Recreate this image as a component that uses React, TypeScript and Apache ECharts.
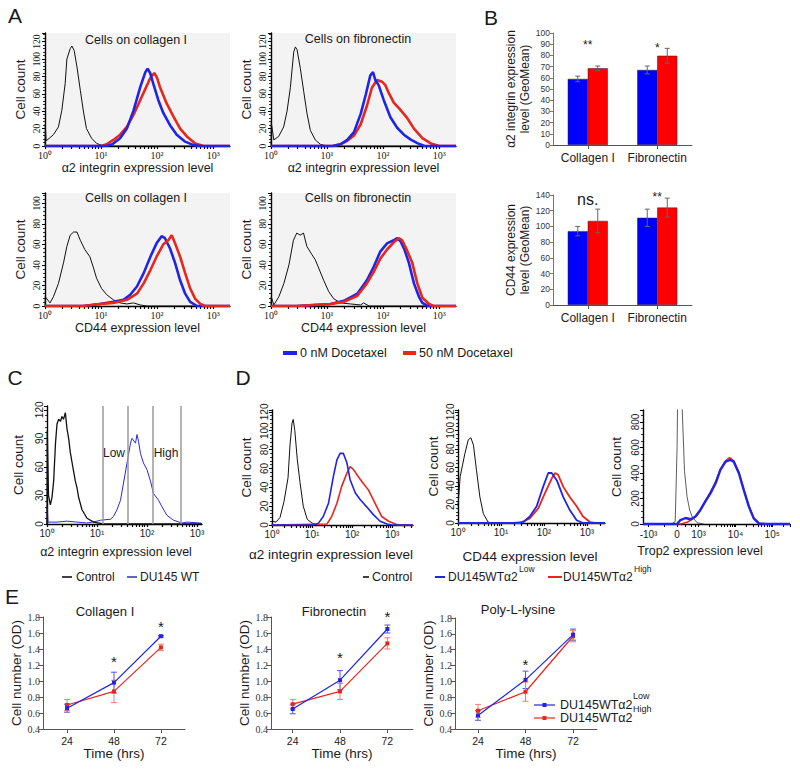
import React, { useEffect, useRef } from 'react';
import * as echarts from 'echarts';

type Pt = [number, number];

const SANS = '"Liberation Sans", Arial, Helvetica, sans-serif';
const SERIF = '"Liberation Serif", "Times New Roman", serif';
const INK = '#1a1a1a';
const BLUE = '#1f24e8';
const RED = '#e8261c';
const BAR_BLUE = '#0000ff';
const BAR_RED = '#ff0000';

// ---------- Panel A: flow histograms, x = log10(expression level), y = cell count ----------
const aColA2Control: Pt[] = [[0,0],[0.005,25],[0.02,6],[0.08,9],[0.15,13],[0.24,22],[0.3,41],[0.36,72],[0.39,100],[0.45,112],[0.48,115],[0.52,110],[0.57,91],[0.63,64],[0.69,38],[0.74,20],[0.83,9],[0.92,3],[1.04,0],[3.3,0]];
const aColA2Low: Pt[] = [[0,0],[1.1,0],[1.2,2],[1.34,9],[1.46,20],[1.58,41],[1.7,68],[1.79,85],[1.83,89],[1.875,84],[1.93,72],[2.02,53],[2.11,38],[2.23,24],[2.35,13],[2.5,5],[2.65,1],[2.77,0],[3.3,0]];
const aColA2High: Pt[] = [[0,0],[1.0,0],[1.1,2],[1.22,7],[1.34,13],[1.46,22],[1.58,36],[1.7,53],[1.82,70],[1.875,78],[1.95,84],[2.0,78],[2.05,68],[2.17,49],[2.29,34],[2.41,20],[2.53,11],[2.68,3],[2.83,0],[3.3,0]];

const aFibA2Control: Pt[] = [[0,0],[0.005,27],[0.05,7],[0.137,11],[0.226,22],[0.286,40],[0.345,67],[0.405,108],[0.435,114],[0.464,111],[0.524,89],[0.583,63],[0.643,37],[0.702,18],[0.79,7],[0.88,2],[1.0,0],[3.3,0]];
const aFibA2Low: Pt[] = [[0,0],[1.1,0],[1.24,2],[1.36,7],[1.48,16],[1.6,37],[1.69,59],[1.77,81],[1.82,85],[1.86,76],[1.92,70],[2.01,53],[2.13,33],[2.25,21],[2.37,13],[2.5,7],[2.62,3],[2.74,0],[3.3,0]];
const aFibA2High: Pt[] = [[0,0],[1.1,0],[1.24,2],[1.36,6],[1.48,12],[1.6,25],[1.71,46],[1.8,67],[1.89,76],[1.98,74],[2.04,70],[2.1,61],[2.19,50],[2.29,43],[2.42,33],[2.55,20],[2.7,9],[2.85,3],[3.0,0],[3.3,0]];

const aColCD44Control: Pt[] = [[0,0],[0.005,9],[0.09,3],[0.15,9],[0.24,22],[0.33,42],[0.39,58],[0.45,69],[0.51,72],[0.57,72],[0.63,64],[0.71,55],[0.8,48],[0.86,38],[0.92,27],[1.01,17],[1.1,11],[1.22,6],[1.34,3],[1.46,2],[1.58,3],[1.7,1],[1.82,0],[3.3,0]];
const aColCD44Low: Pt[] = [[0,0],[0.68,0],[0.98,2],[1.22,4],[1.4,6],[1.52,11],[1.64,19],[1.76,32],[1.88,48],[1.99,61],[2.08,68],[2.14,66],[2.23,56],[2.32,42],[2.41,25],[2.5,12],[2.59,4],[2.71,0],[3.3,0]];
const aColCD44High: Pt[] = [[0,0],[0.68,0],[0.98,2],[1.22,3],[1.46,6],[1.64,12],[1.76,22],[1.88,35],[1.99,48],[2.11,60],[2.2,64],[2.26,69],[2.32,61],[2.41,48],[2.5,32],[2.59,17],[2.68,7],[2.77,2],[2.86,0],[3.3,0]];

const aFibCD44Control: Pt[] = [[0,0],[0.005,9],[0.05,1],[0.14,9],[0.23,22],[0.32,40],[0.4,64],[0.46,71],[0.52,69],[0.58,71],[0.64,58],[0.73,50],[0.79,45],[0.85,37],[0.94,25],[1.03,14],[1.12,7],[1.24,3],[1.42,2],[1.6,1],[1.65,3],[1.75,0],[3.3,0]];
const aFibCD44Low: Pt[] = [[0,0],[0.46,0],[0.76,1],[1.06,2],[1.3,5],[1.54,12],[1.71,25],[1.83,38],[1.95,53],[2.07,61],[2.19,64],[2.25,66],[2.31,63],[2.38,55],[2.46,42],[2.55,22],[2.64,9],[2.7,3],[2.8,0],[3.3,0]];
const aFibCD44High: Pt[] = [[0,0],[0.46,0],[0.76,1],[1.06,2],[1.3,4],[1.54,10],[1.71,22],[1.83,33],[1.95,46],[2.07,55],[2.19,62],[2.28,66],[2.34,64],[2.42,55],[2.52,42],[2.61,22],[2.7,8],[2.82,2],[2.9,0],[3.3,0]];

// ---------- Panel B: GeoMean bars ----------
const bCategories = ['Collagen I', 'Fibronectin'];
const bA2Blue = [59, 67];
const bA2BlueErr = [2.5, 3.5];
const bA2Red = [68.5, 79.7];
const bA2RedErr = [2, 6.6];
const bA2Sig = ['**', '*'];
const bA2SigY = [89, 87];
const bCD44Blue = [94, 111];
const bCD44BlueErr = [6, 11];
const bCD44Red = [107, 124];
const bCD44RedErr = [15, 12];
const bCD44Sig = ['ns.', '**'];
const bCD44SigY = [134, 137];

// ---------- Panel C ----------
const cControl: Pt[] = [[0,0],[0.005,98],[0.03,30],[0.067,20],[0.1,28],[0.133,45],[0.17,85],[0.2,105],[0.233,110],[0.27,108],[0.3,113],[0.33,110],[0.367,117],[0.4,100],[0.433,90],[0.467,75],[0.5,65],[0.533,55],[0.567,45],[0.6,38],[0.633,28],[0.7,15],[0.8,6],[0.933,2],[1.13,0],[3.1,0]];
const cWT: Pt[] = [[0,0],[0.005,18],[0.02,2],[0.2,2],[0.4,3],[0.6,2],[0.8,1],[1.0,3],[1.07,4],[1.27,5],[1.33,8],[1.4,15],[1.47,25],[1.53,43],[1.6,64],[1.67,85],[1.7,90],[1.77,85],[1.8,94],[1.83,87],[1.87,74],[1.93,64],[2.0,57],[2.07,45],[2.13,32],[2.23,25],[2.3,18],[2.4,9],[2.53,4],[2.7,1],[2.8,2],[3.07,1],[3.1,0]];
const cGates = [1.12, 1.62, 2.12, 2.68];

// ---------- Panel D ----------
const dA2Control: Pt[] = [[0,0],[0.02,4],[0.1,3],[0.2,8],[0.3,25],[0.4,50],[0.45,85],[0.5,108],[0.53,112],[0.57,100],[0.63,70],[0.7,45],[0.78,20],[0.88,6],[1.0,2],[1.15,0]];
const dA2Low: Pt[] = [[0,0],[1.05,0],[1.16,2],[1.28,9],[1.41,23],[1.53,51],[1.62,69],[1.7,76],[1.78,76],[1.87,66],[1.95,48],[2.08,34],[2.2,27],[2.37,19],[2.53,11],[2.7,4],[2.87,1],[3.0,0],[3.52,0]];
const dA2High: Pt[] = [[0,0],[1.37,1],[1.49,9],[1.62,23],[1.74,41],[1.87,55],[1.95,62],[2.03,59],[2.16,51],[2.28,44],[2.41,37],[2.49,30],[2.62,19],[2.74,9],[2.91,4],[3.08,1],[3.15,0],[3.52,0]];

const dCD44Control: Pt[] = [[0,18],[0.05,50],[0.16,75],[0.24,90],[0.3,92],[0.36,84],[0.43,57],[0.51,28],[0.59,10],[0.7,1],[0.78,0]];
const dCD44Low: Pt[] = [[0,0],[1.29,0],[1.52,1],[1.67,7],[1.83,18],[1.98,39],[2.1,54],[2.18,54],[2.3,46],[2.45,28],[2.6,14],[2.76,3],[2.91,0],[3.42,0]];
const dCD44High: Pt[] = [[0,0],[1.44,0],[1.67,5],[1.87,16],[2.02,32],[2.18,48],[2.26,54],[2.33,52],[2.45,39],[2.6,28],[2.76,18],[2.91,7],[3.07,1],[3.19,0],[3.42,0]];

// Trop2 on a biexponential display scale (axis units)
const dTropControl: Pt[] = [[-0.15,0],[-0.05,20],[0,600],[0.04,1600],[0.09,1600],[0.14,900],[0.2,420],[0.27,214],[0.34,110],[0.41,57],[0.54,10],[0.72,0]];
const dTropLow: Pt[] = [[-0.92,0],[0,0],[0.09,31],[0.23,47],[0.36,37],[0.49,57],[0.63,110],[0.76,175],[0.9,240],[1.04,319],[1.17,424],[1.31,489],[1.44,502],[1.53,489],[1.67,398],[1.8,267],[1.94,136],[2.07,44],[2.21,5],[2.43,0],[3.05,0]];
const dTropHigh: Pt[] = [[-0.92,0],[0.1,0],[0.27,13],[0.41,37],[0.54,68],[0.63,112],[0.76,180],[0.9,250],[1.04,330],[1.17,430],[1.31,495],[1.42,520],[1.53,495],[1.67,405],[1.8,272],[1.94,140],[2.07,48],[2.21,6],[2.43,0],[3.05,0]];
const tropTickPos = [-0.77, 0, 0.58, 1.58, 2.57];
const tropTickText = ['-10³', '0', '10³', '10⁴', '10⁵'];

// ---------- Panel E: growth ----------
const eTimes = [24, 48, 72];
const eColLow = [0.66, 0.98, 1.56];
const eColLowErr = [0.05, 0.13, 0.01];
const eColHigh = [0.70, 0.87, 1.42];
const eColHighErr = [0.07, 0.14, 0.04];
const eColSig: Pt[] = [[48, 1.24], [72, 1.68]];
const eFibLow = [0.65, 1.01, 1.65];
const eFibLowErr = [0.06, 0.12, 0.05];
const eFibHigh = [0.71, 0.87, 1.47];
const eFibHighErr = [0.06, 0.10, 0.07];
const eFibSig: Pt[] = [[48, 1.29], [72, 1.81]];
const ePllLow = [0.57, 1.02, 1.59];
const ePllLowErr = [0.06, 0.11, 0.07];
const ePllHigh = [0.63, 0.87, 1.57];
const ePllHighErr = [0.08, 0.12, 0.07];
const ePllSig: Pt[] = [[48, 1.21]];

const SUP: Record<string, string> = { '0': '⁰', '1': '¹', '2': '²', '3': '³', '4': '⁴', '5': '⁵', '-': '⁻' };
const sup = (s: string) => s.split('').map((c) => SUP[c] ?? c).join('');
const decadeLabel = (v: number) => '10' + sup(String(Math.round(v)));
const decades = (max: number) => [0, 1, 2, 3].filter((v) => v <= max + 1e-9);
const logMinor = (max: number) => {
  const t: number[] = [];
  for (let n = 0; n <= Math.floor(max); n++) for (let k = 1; k <= 9; k++) {
    const v = n + Math.log10(k);
    if (v <= max + 1e-9) t.push(v);
  }
  return t;
};
const tropMinor = (() => {
  const t: number[] = [-0.77, -0.35, 0, 0.22, 0.38, 0.48];
  [0.58, 1.58, 2.57].forEach((b) => { for (let k = 1; k <= 9; k++) { const v = b + Math.log10(k); if (v <= 3.05) t.push(v); } });
  return t;
})();
const multipleOf = (step: number) => (v: number) => (Math.abs(v / step - Math.round(v / step)) < 1e-6 ? String(Math.round(v)) : '');

const grids = [
  { left: 45, top: 33, width: 185, height: 113 },   // 0 A1
  { left: 271, top: 33, width: 185, height: 113 },  // 1 A2
  { left: 45, top: 193, width: 185, height: 113 },  // 2 A3
  { left: 271, top: 193, width: 185, height: 113 }, // 3 A4
  { left: 553, top: 33, width: 139, height: 112 },  // 4 B1
  { left: 553, top: 195, width: 139, height: 110 }, // 5 B2
  { left: 47, top: 406, width: 155, height: 118 },  // 6 C
  { left: 272, top: 410, width: 141, height: 115 }, // 7 D1
  { left: 458, top: 410, width: 147, height: 113 }, // 8 D2
  { left: 643, top: 410, width: 147, height: 114 }, // 9 D3
  { left: 43, top: 617, width: 142, height: 112 },  // 10 E1
  { left: 271, top: 617, width: 142, height: 112 }, // 11 E2
  { left: 455, top: 618, width: 142, height: 111 }, // 12 E3
].map((g, i) => ({
  ...g,
  show: i < 4,
  backgroundColor: i < 4 ? '#f3f3f3' : 'transparent',
  borderWidth: 0,
  containLabel: false,
}));

const histX = (gi: number, max: number, family: string, name = '', nameGap = 15, nameSize = 12.5) => ({
  type: 'value', gridIndex: gi, min: 0, max,
  axisLine: { show: true, onZero: false, lineStyle: { color: '#000', width: 1.3 } },
  axisTick: { show: true, customValues: logMinor(max), length: 3, lineStyle: { color: '#000', width: 1.2 } },
  axisLabel: { show: true, customValues: decades(max), formatter: (v: number) => decadeLabel(v), fontFamily: family, fontSize: 10, color: INK, margin: 4 },
  splitLine: { show: false },
  name, nameLocation: 'middle', nameGap,
  nameTextStyle: { fontFamily: SANS, fontSize: nameSize, color: INK },
});

const countY = (gi: number, max: number, interval: number, family: string, nameGap: number, minorSplit = 5, nameSize = 13.5, labelSize = 9.5) => ({
  type: 'value', gridIndex: gi, min: 0, max, interval,
  axisLine: { show: true, onZero: false, lineStyle: { color: '#000', width: 1.4 } },
  axisTick: { show: true, length: 3, lineStyle: { color: '#000', width: 1 } },
  minorTick: { show: true, splitNumber: minorSplit, length: 2, lineStyle: { color: '#000', width: 0.8 } },
  axisLabel: { rotate: 90, fontFamily: family, fontSize: labelSize, color: INK, margin: 3, formatter: multipleOf(interval) },
  splitLine: { show: false },
  name: 'Cell count', nameLocation: 'middle', nameGap,
  nameTextStyle: { fontFamily: SANS, fontSize: nameSize, color: INK },
});

const barX = (gi: number) => ({
  type: 'category', gridIndex: gi, data: bCategories,
  axisLine: { show: true, lineStyle: { color: '#555', width: 1 } },
  axisTick: { show: true, alignWithLabel: true, length: 4, lineStyle: { color: '#555' } },
  axisLabel: { interval: 0, hideOverlap: false, fontFamily: SANS, fontSize: 12, color: INK, margin: 7 },
});
const barY = (gi: number, max: number, interval: number, name: string) => ({
  type: 'value', gridIndex: gi, min: 0, max, interval,
  axisLine: { show: true, lineStyle: { color: '#777', width: 1 } },
  axisTick: { show: true, length: 3, lineStyle: { color: '#777' } },
  axisLabel: { fontFamily: SANS, fontSize: 8.5, color: '#333', margin: 3 },
  splitLine: { show: false },
  name, nameLocation: 'middle', nameGap: 18,
  nameTextStyle: { fontFamily: SANS, fontSize: 12, color: INK, lineHeight: 14 },
});

const timeX = (gi: number, min: number, max: number) => ({
  type: 'value', gridIndex: gi, min, max,
  axisLine: { show: true, onZero: false, lineStyle: { color: '#555', width: 1 } },
  axisTick: { show: true, customValues: eTimes, length: 4, lineStyle: { color: '#555' } },
  axisLabel: { customValues: eTimes, fontFamily: SANS, fontSize: 10.5, color: INK, margin: 6 },
  splitLine: { show: false },
  name: 'Time (hrs)', nameLocation: 'middle', nameGap: 16,
  nameTextStyle: { fontFamily: SANS, fontSize: 13.5, color: INK },
});
const odY = (gi: number) => ({
  type: 'value', gridIndex: gi, min: 0.4, max: 1.8, interval: 0.2,
  axisLine: { show: true, lineStyle: { color: '#555', width: 1 } },
  axisTick: { show: true, length: 4, lineStyle: { color: '#555' } },
  axisLabel: { formatter: (v: number) => v.toFixed(1), fontFamily: SERIF, fontSize: 10, color: '#333', margin: 3 },
  splitLine: { show: false },
  name: 'Cell number (OD)', nameLocation: 'middle', nameGap: 16,
  nameTextStyle: { fontFamily: SANS, fontSize: 13.5, color: INK },
});

const hist = (gi: number, data: Pt[], color: string, width: number, z = 2, extra: any = {}) => ({
  type: 'line', xAxisIndex: gi, yAxisIndex: gi, data, symbol: 'none', showSymbol: false, silent: true,
  lineStyle: { color, width }, itemStyle: { color }, z, ...extra,
});

const errSeries = (gi: number, data: number[][], offset: number, color: string, cap: number, z = 5) => ({
  type: 'custom', xAxisIndex: gi, yAxisIndex: gi, data, encode: { x: 0, y: [1, 2] }, z, silent: true, clip: false,
  renderItem: (_p: any, api: any) => {
    const x = api.value(0);
    const top = api.coord([x, api.value(2)]);
    const bot = api.coord([x, api.value(1)]);
    const cx = top[0] + offset;
    const style = { stroke: color, lineWidth: 1 };
    return {
      type: 'group',
      children: [
        { type: 'line', shape: { x1: cx, y1: top[1], x2: cx, y2: bot[1] }, style },
        { type: 'line', shape: { x1: cx - cap, y1: top[1], x2: cx + cap, y2: top[1] }, style },
        { type: 'line', shape: { x1: cx - cap, y1: bot[1], x2: cx + cap, y2: bot[1] }, style },
      ],
    };
  },
});

// significance marks placed through the axes (custom series rendering text)
const sigSeries = (gi: number, pts: Pt[], texts: string[], size: number) => ({
  type: 'custom', xAxisIndex: gi, yAxisIndex: gi, data: pts.map((p) => [p[0], p[1]]),
  encode: { x: 0, y: 1 }, z: 6, silent: true, clip: false,
  renderItem: (params: any, api: any) => {
    const c = api.coord([api.value(0), api.value(1)]);
    return {
      type: 'text', x: c[0], y: c[1],
      style: { text: texts[params.dataIndex], fill: INK, font: `${size}px ${SANS}`, align: 'center', verticalAlign: 'middle', textAlign: 'center', textVerticalAlign: 'middle' },
    };
  },
});

const barSeries = (gi: number, vals: number[], color: string) => ({
  type: 'bar', xAxisIndex: gi, yAxisIndex: gi, data: vals, barWidth: 20, barGap: '0%', silent: true,
  itemStyle: { color, borderColor: '#222', borderWidth: 0.5 }, z: 2,
});

const growth = (gi: number, vals: number[], color: string) => ({
  type: 'line', xAxisIndex: gi, yAxisIndex: gi, data: eTimes.map((t, i) => [t, vals[i]]),
  symbol: 'rect', symbolSize: 4, showSymbol: true, silent: true,
  lineStyle: { color, width: 1.2 }, itemStyle: { color }, z: 4,
});
const growthErr = (gi: number, vals: number[], errs: number[], color: string) =>
  errSeries(gi, eTimes.map((t, i) => [t, vals[i] - errs[i], vals[i] + errs[i]]), 0, color, 3, 3);

const txt = (x: number, y: number, text: string, size: number, align = 'center', family = SANS, color = INK, vAlign = 'middle') => ({
  type: 'text', x, y, silent: true,
  style: { text, fill: color, font: `${size}px ${family}`, textAlign: align, textVerticalAlign: vAlign, align, verticalAlign: vAlign },
});
const seg = (x1: number, y: number, x2: number, color: string, w: number) => ({
  type: 'line', silent: true, shape: { x1, y1: y, x2, y2: y }, style: { stroke: color, lineWidth: w },
});

export default function App() {
  const ref = useRef<HTMLDivElement>(null);
  useEffect(() => {
    if (!ref.current) return;
    const chart = echarts.init(ref.current, undefined, { renderer: 'svg' });

    const xAxis: any[] = [
      histX(0, 3.3, SERIF, 'α2 integrin expression level', 15),
      histX(1, 3.3, SERIF, 'α2 integrin expression level', 15),
      histX(2, 3.3, SERIF, 'CD44 expression level', 15),
      histX(3, 3.3, SERIF, 'CD44 expression level', 15),
      barX(4),
      barX(5),
      histX(6, 3.1, SANS),
      histX(7, 3.52, SANS),
      histX(8, 3.42, SANS),
      {
        type: 'value', gridIndex: 9, min: -0.92, max: 3.05,
        axisLine: { show: true, onZero: false, lineStyle: { color: '#000', width: 1.3 } },
        axisTick: { show: true, customValues: tropMinor, length: 3, lineStyle: { color: '#000' } },
        axisLabel: {
          customValues: tropTickPos, fontFamily: SANS, fontSize: 10, color: INK, margin: 5,
          formatter: (v: number) => {
            let best = 0;
            tropTickPos.forEach((p, i) => { if (Math.abs(p - v) < Math.abs(tropTickPos[best] - v)) best = i; });
            return tropTickText[best];
          },
        },
        splitLine: { show: false },
      },
      timeX(10, 11.7, 84.3),
      timeX(11, 13, 85),
      timeX(12, 12.4, 84.1),
    ];

    const yAxis: any[] = [
      countY(0, 130, 20, SERIF, 18, 5, 13.5, 9.5),
      countY(1, 130, 20, SERIF, 18, 5, 13.5, 9.5),
      countY(2, 110, 20, SERIF, 18, 5, 13.5, 9.5),
      countY(3, 110, 20, SERIF, 18, 5, 13.5, 9.5),
      barY(4, 100, 10, 'α2 integrin expression\nlevel (GeoMean)'),
      barY(5, 140, 20, 'CD44 expression\nlevel (GeoMean)'),
      countY(6, 124, 30, SANS, 22, 5, 13.5, 10),
      countY(7, 122, 20, SANS, 19, 5, 13.5, 10),
      countY(8, 122, 20, SANS, 18, 5, 13.5, 10),
      countY(9, 894, 200, SANS, 20, 4, 13.5, 10),
      odY(10),
      odY(11),
      odY(12),
    ];

    const series: any[] = [
      // A
      hist(0, aColA2Control, '#111', 1, 2),
      hist(0, aColA2High, RED, 2.6, 3),
      hist(0, aColA2Low, BLUE, 2.6, 4),
      hist(1, aFibA2Control, '#111', 1, 2),
      hist(1, aFibA2High, RED, 2.6, 3),
      hist(1, aFibA2Low, BLUE, 2.6, 4),
      hist(2, aColCD44Control, '#111', 1, 2),
      hist(2, aColCD44Low, BLUE, 2.6, 3),
      hist(2, aColCD44High, RED, 2.6, 4),
      hist(3, aFibCD44Control, '#111', 1, 2),
      hist(3, aFibCD44Low, BLUE, 2.6, 3),
      hist(3, aFibCD44High, RED, 2.6, 4),
      // B
      barSeries(4, bA2Blue, BAR_BLUE),
      barSeries(4, bA2Red, BAR_RED),
      errSeries(4, bCategories.map((_, i) => [i, bA2Blue[i] - bA2BlueErr[i], bA2Blue[i] + bA2BlueErr[i]]), -10, '#666', 2.5),
      errSeries(4, bCategories.map((_, i) => [i, bA2Red[i] - bA2RedErr[i], bA2Red[i] + bA2RedErr[i]]), 10, '#666', 2.5),
      sigSeries(4, bCategories.map((_, i) => [i, bA2SigY[i]] as Pt), bA2Sig, 12),
      barSeries(5, bCD44Blue, BAR_BLUE),
      barSeries(5, bCD44Red, BAR_RED),
      errSeries(5, bCategories.map((_, i) => [i, bCD44Blue[i] - bCD44BlueErr[i], bCD44Blue[i] + bCD44BlueErr[i]]), -10, '#666', 2.5),
      errSeries(5, bCategories.map((_, i) => [i, bCD44Red[i] - bCD44RedErr[i], bCD44Red[i] + bCD44RedErr[i]]), 10, '#666', 2.5),
      sigSeries(5, [[0, bCD44SigY[0]]], [bCD44Sig[0]], 16),
      sigSeries(5, [[1, bCD44SigY[1]]], [bCD44Sig[1]], 12),
      // C
      hist(6, cControl, '#111', 1.3, 3),
      hist(6, cWT, '#2a2ad8', 1, 2, {
        markLine: {
          silent: true, symbol: ['none', 'none'], label: { show: false },
          lineStyle: { color: '#9a9a9a', width: 1.5, type: 'solid' },
          data: cGates.map((g) => ({ xAxis: g })),
        },
      }),
      // D
      hist(7, dA2Control, '#111', 1, 2),
      hist(7, dA2High, RED, 1.6, 3),
      hist(7, dA2Low, BLUE, 1.6, 4),
      hist(8, dCD44Control, '#111', 1, 2),
      hist(8, dCD44High, RED, 1.8, 3),
      hist(8, dCD44Low, BLUE, 1.8, 4),
      hist(9, dTropControl, '#333', 0.8, 2),
      hist(9, dTropHigh, RED, 1.6, 3),
      hist(9, dTropLow, BLUE, 2.4, 4),
      // E
      growthErr(10, eColLow, eColLowErr, '#5b4fd8'),
      growthErr(10, eColHigh, eColHighErr, '#f07a7a'),
      growth(10, eColHigh, RED),
      growth(10, eColLow, BLUE),
      sigSeries(10, eColSig, eColSig.map(() => '*'), 15),
      growthErr(11, eFibLow, eFibLowErr, '#5b4fd8'),
      growthErr(11, eFibHigh, eFibHighErr, '#f07a7a'),
      growth(11, eFibHigh, RED),
      growth(11, eFibLow, BLUE),
      sigSeries(11, eFibSig, eFibSig.map(() => '*'), 15),
      growthErr(12, ePllLow, ePllLowErr, '#5b4fd8'),
      growthErr(12, ePllHigh, ePllHighErr, '#f07a7a'),
      growth(12, ePllHigh, RED),
      growth(12, ePllLow, BLUE),
      sigSeries(12, ePllSig, ePllSig.map(() => '*'), 15),
    ];

    const graphic: any[] = [
      // panel letters
      txt(15, 15, 'A', 21), txt(491, 17, 'B', 21), txt(15, 377, 'C', 21), txt(243, 377, 'D', 21), txt(12, 596, 'E', 21),
      // A titles
      txt(136, 40, 'Cells on collagen I', 12.5), txt(358, 39, 'Cells on fibronectin', 12.5),
      txt(136, 198, 'Cells on collagen I', 12.5), txt(358, 198, 'Cells on fibronectin', 12.5),
      // A legend
      { type: 'rect', silent: true, shape: { x: 283, y: 351, width: 14, height: 4 }, style: { fill: BLUE } },
      txt(300, 353, '0 nM Docetaxel', 12.5, 'left'),
      { type: 'rect', silent: true, shape: { x: 403, y: 351, width: 13, height: 4 }, style: { fill: RED } },
      txt(419, 353, '50 nM Docetaxel', 12.5, 'left'),
      // C annotations
      txt(114, 453, 'Low', 12), txt(166, 453, 'High', 12),
      txt(116, 552, 'α2 integrin expression level', 12.5),
      seg(62, 577, 72, '#000', 1.5), txt(76, 577, 'Control', 12, 'left'),
      seg(127, 577, 137, '#2a2ad8', 1.5), txt(140, 577, 'DU145 WT', 12, 'left'),
      // D axis names
      txt(331, 554, 'α2 integrin expression level', 13.5),
      txt(530, 556, 'CD44 expression level', 13.5),
      txt(700, 551, 'Trop2 expression level', 12.5),
      // D legend
      seg(363, 577, 369, '#000', 1.5), txt(372, 577, 'Control', 12.5, 'left'),
      seg(435, 577, 445, BLUE, 2), txt(448, 577, 'DU145WTα2', 12, 'left'), txt(519, 569, 'Low', 8.5, 'left'),
      seg(548, 577, 562, RED, 2), txt(563, 577, 'DU145WTα2', 12, 'left'), txt(634, 569, 'High', 8.5, 'left'),
      // E titles
      txt(105, 611, 'Collagen I', 13), txt(334, 611, 'Fibronectin', 13), txt(518, 609, 'Poly-L-lysine', 13),
      // E3 legend
      seg(534, 705, 555, BLUE, 1.2),
      { type: 'rect', silent: true, shape: { x: 542.5, y: 703, width: 4, height: 4 }, style: { fill: BLUE } },
      txt(560, 705, 'DU145WTα2', 12.5, 'left'), txt(633, 696, 'Low', 9, 'left'),
      seg(534, 718, 555, RED, 1.2),
      { type: 'rect', silent: true, shape: { x: 542.5, y: 716, width: 4, height: 4 }, style: { fill: RED } },
      txt(560, 718, 'DU145WTα2', 12.5, 'left'), txt(633, 709, 'High', 9, 'left'),
    ];

    chart.setOption({
      animation: false,
      backgroundColor: '#ffffff',
      textStyle: { fontFamily: SANS },
      grid: grids,
      xAxis,
      yAxis,
      series,
      graphic,
    });
    return () => chart.dispose();
  }, []);

  return <div ref={ref} style={{ position: 'absolute', left: 0, top: 0, width: 800, height: 770, background: '#fff' }} />;
}
